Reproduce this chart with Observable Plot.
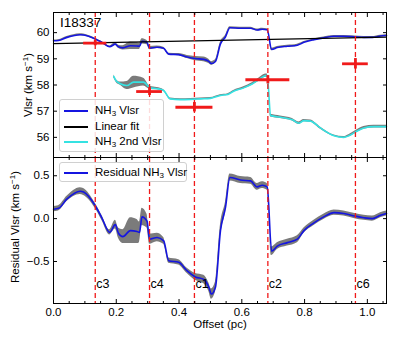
<!DOCTYPE html>
<html><head><meta charset="utf-8">
<script src="https://cdn.jsdelivr.net/npm/d3@7"></script>
<script src="https://cdn.jsdelivr.net/npm/@observablehq/plot@0.6"></script>
<style>
body{margin:0;background:#fff;}
#wrap{position:relative;width:399px;height:342px;font-family:"Liberation Sans",Arial,sans-serif;color:#000;overflow:hidden}
#wrap svg{position:absolute;left:0;overflow:visible}
.t{position:absolute;white-space:nowrap;line-height:1}
.leg{position:absolute;border:1px solid #d0d0d0;border-radius:3px;background:rgba(255,255,255,0.85);font-size:11.5px;box-sizing:border-box}
.row{position:absolute;left:0;height:14px;white-space:nowrap}
.sw{position:absolute;left:4px;width:24px;height:0;border-top:2px solid}
.lt{position:absolute;left:35px;top:-7px;line-height:14px}
sub{font-size:8px;vertical-align:-2px;line-height:0}
sup{font-size:8px;vertical-align:4px;line-height:0}
</style></head>
<body><div id="wrap"></div>
<script>
// ---- data ----
const offsets = [0, 0.016, 0.043, 0.085, 0.096, 0.133, 0.154, 0.179, 0.197, 0.207, 0.221, 0.245, 0.266, 0.274, 0.282, 0.298, 0.306, 0.33, 0.351, 0.367, 0.399, 0.426, 0.452, 0.479, 0.495, 0.503, 0.516, 0.532, 0.548, 0.562, 0.596, 0.628, 0.649, 0.665, 0.681, 0.695, 0.713, 0.745, 0.777, 0.798, 0.83, 0.861, 0.894, 0.925, 0.96, 0.989, 1.016, 1.042, 1.061];
const vlsr = [59.69, 59.70, 59.82, 59.92, 59.91, 59.76, 59.63, 59.46, 59.56, 59.46, 59.42, 59.50, 59.49, 59.48, 59.67, 59.62, 59.41, 59.44, 59.40, 59.18, 59.16, 59.07, 59.01, 58.98, 58.90, 58.82, 58.90, 59.57, 59.84, 60.19, 60.17, 60.17, 60.10, 60.13, 60.11, 59.36, 59.43, 59.48, 59.52, 59.63, 59.73, 59.80, 59.86, 59.86, 59.84, 59.82, 59.82, 59.87, 59.89];
const vlsrErr = [0.03, 0.03, 0.03, 0.04, 0.04, 0.03, 0.03, 0.03, 0.05, 0.06, 0.08, 0.14, 0.13, 0.12, 0.1, 0.08, 0.06, 0.05, 0.04, 0.03, 0.04, 0.06, 0.08, 0.09, 0.08, 0.07, 0.06, 0.07, 0.06, 0.04, 0.04, 0.04, 0.04, 0.04, 0.04, 0.05, 0.04, 0.04, 0.04, 0.03, 0.03, 0.03, 0.03, 0.03, 0.03, 0.03, 0.03, 0.03, 0.03];
const residual = [0.11, 0.12, 0.23, 0.32, 0.31, 0.15, 0.01, -0.16, -0.07, -0.17, -0.21, -0.14, -0.15, -0.16, 0.02, -0.03, -0.24, -0.22, -0.26, -0.49, -0.51, -0.61, -0.68, -0.71, -0.80, -0.88, -0.80, -0.14, 0.13, 0.48, 0.45, 0.44, 0.37, 0.39, 0.37, -0.38, -0.32, -0.28, -0.24, -0.14, -0.05, 0.02, 0.07, 0.06, 0.03, 0.01, 0.00, 0.04, 0.06];
const residualErr = [0.03, 0.03, 0.03, 0.04, 0.04, 0.03, 0.03, 0.03, 0.05, 0.06, 0.08, 0.15, 0.14, 0.12, 0.1, 0.08, 0.06, 0.05, 0.04, 0.03, 0.03, 0.03, 0.04, 0.05, 0.05, 0.06, 0.06, 0.07, 0.06, 0.04, 0.04, 0.04, 0.04, 0.04, 0.04, 0.05, 0.04, 0.04, 0.04, 0.03, 0.03, 0.03, 0.03, 0.03, 0.03, 0.03, 0.03, 0.03, 0.03];
const fitOffsets = [0, 1.061];
const fitVlsr = [59.58, 59.83];
const offsets2 = [0.192, 0.2, 0.213, 0.234, 0.255, 0.287, 0.308, 0.33, 0.351, 0.372, 0.404, 0.437, 0.468, 0.5, 0.532, 0.556, 0.574, 0.606, 0.633, 0.655, 0.676, 0.681, 0.692, 0.723, 0.761, 0.782, 0.798, 0.819, 0.851, 0.894, 0.925, 0.941, 0.962, 0.989, 1.021, 1.061];
const vlsr2 = [58.33, 58.15, 58.05, 57.98, 58.11, 58.11, 57.89, 57.86, 57.79, 57.47, 57.44, 57.45, 57.47, 57.49, 57.6, 57.64, 57.76, 57.89, 58.04, 58.21, 58.36, 58.36, 56.83, 56.77, 56.67, 56.54, 56.64, 56.62, 56.35, 56.06, 56.0, 56.06, 56.2, 56.36, 56.41, 56.41];
const vlsr2Err = [0.05, 0.05, 0.06, 0.15, 0.22, 0.15, 0.06, 0.04, 0.03, 0.03, 0.03, 0.03, 0.03, 0.03, 0.03, 0.03, 0.03, 0.04, 0.05, 0.06, 0.06, 0.06, 0.05, 0.05, 0.05, 0.05, 0.04, 0.04, 0.04, 0.03, 0.03, 0.04, 0.05, 0.05, 0.05, 0.05];
const cores = ["c3", "c4", "c1", "c2", "c6"];
const coreOffset = [0.133, 0.306, 0.449, 0.683, 0.962];
const coreVlsr = [59.6, 57.75, 57.15, 58.2, 58.81];
const coreOffsetErr = [0.037, 0.041, 0.059, 0.07, 0.041];
const coreVlsrErr = [0.1, 0.15, 0.18, 0.16, 0.2];
const xMajorTicks = [0, 0.2, 0.4, 0.6, 0.8, 1.0];
const xMinorTicks = [0.05,0.1,0.15,0.25,0.3,0.35,0.45,0.5,0.55,0.65,0.7,0.75,0.85,0.9,0.95,1.05];
const yTopTicks = [56, 57, 58, 59, 60];
const yBottomTicks = [-0.5, 0, 0.5];

// ---- tables ----
const mainTab = offsets.map((x, i) => ({x, v: vlsr[i], e: vlsrErr[i], r: residual[i], re: residualErr[i]}));
const secondTab = offsets2.map((x, i) => ({x, v: vlsr2[i], e: vlsr2Err[i]}));
const fitTab = fitOffsets.map((x, i) => ({x, v: fitVlsr[i]}));
const coreTab = cores.map((c, i) => ({c, x: coreOffset[i], v: coreVlsr[i], xe: coreOffsetErr[i], ve: coreVlsrErr[i]}));

const FONT = '"Liberation Sans", Arial, sans-serif';
const RED = "#f01a1a";
const BLUE = "#1515e0";
const CYAN = "#35e2e2";
const GREY = "#7b7b7b";
const CURVE = "monotone-x";
const xOpt = {domain: [0, 1.061]};
const common = {width: 399, marginLeft: 53, marginRight: 13, style: {fontFamily: FONT, fontSize: "11.5px", color: "#000", background: "transparent"}};
const blank = () => "";
function tickMarks(yTicks) {
  return [
    Plot.axisX({ticks: xMajorTicks, anchor: "bottom", tickSize: -4, tickFormat: blank, label: null}),
    Plot.axisX({ticks: xMajorTicks, anchor: "top", tickSize: -4, tickFormat: blank, label: null}),
    Plot.axisX({ticks: xMinorTicks, anchor: "bottom", tickSize: -2, tickFormat: blank, label: null}),
    Plot.axisX({ticks: xMinorTicks, anchor: "top", tickSize: -2, tickFormat: blank, label: null}),
    Plot.axisY({ticks: yTicks, anchor: "left", tickSize: -4, tickFormat: blank, label: null}),
    Plot.axisY({ticks: yTicks, anchor: "right", tickSize: -4, tickFormat: blank, label: null})
  ];
}

const topChart = Plot.plot({
  ...common, height: 157, marginTop: 12, marginBottom: 0,
  x: xOpt, y: {domain: [55.23, 60.77]},
  marks: [
    Plot.areaY(mainTab, {x: "x", y1: d => d.v - d.e, y2: d => d.v + d.e, fill: GREY, curve: CURVE}),
    Plot.line(mainTab, {x: "x", y: "v", stroke: BLUE, strokeWidth: 1.6, curve: CURVE}),
    Plot.line(fitTab, {x: "x", y: "v", stroke: "#000", strokeWidth: 1.3}),
    Plot.areaY(secondTab, {x: "x", y1: d => d.v - d.e, y2: d => d.v + d.e, fill: GREY, curve: CURVE}),
    Plot.line(secondTab, {x: "x", y: "v", stroke: CYAN, strokeWidth: 1.6, curve: CURVE}),
    Plot.ruleX(coreTab, {x: "x", stroke: RED, strokeWidth: 1.3, strokeDasharray: "5,3"}),
    Plot.ruleY(coreTab, {y: "v", x1: d => d.x - d.xe, x2: d => d.x + d.xe, stroke: RED, strokeWidth: 2.8}),
    Plot.ruleX(coreTab, {x: "x", y1: d => d.v - d.ve, y2: d => d.v + d.ve, stroke: RED, strokeWidth: 2.8}),
    Plot.axisY({ticks: yTopTicks, anchor: "left", tickSize: 0, tickPadding: 4, label: null, tickFormat: d3.format("d")}),
    ...tickMarks(yTopTicks),
    Plot.frame({stroke: "#000", strokeWidth: 1})
  ]
});
topChart.style.top = "0px";

const bottomChart = Plot.plot({
  ...common, height: 185, marginTop: 0, marginBottom: 39,
  x: xOpt, y: {domain: [-0.99, 0.713]},
  marks: [
    Plot.areaY(mainTab, {x: "x", y1: d => d.r - d.re, y2: d => d.r + d.re, fill: GREY, curve: CURVE}),
    Plot.line(mainTab, {x: "x", y: "r", stroke: BLUE, strokeWidth: 1.6, curve: CURVE}),
    Plot.ruleX(coreTab, {x: "x", stroke: RED, strokeWidth: 1.3, strokeDasharray: "5,3"}),
    Plot.text(coreTab, {x: "x", text: "c", frameAnchor: "bottom", dy: -20, dx: 1, textAnchor: "start", lineAnchor: "middle", fontSize: 12.5, fill: "#000"}),
    Plot.axisY({ticks: yBottomTicks, anchor: "left", tickSize: 0, tickPadding: 4, label: null, tickFormat: d3.format(".1f")}),
    Plot.axisX({ticks: xMajorTicks, anchor: "bottom", tickSize: 0, tickPadding: 4, label: null, tickFormat: d3.format(".1f")}),
    ...tickMarks(yBottomTicks),
    Plot.frame({stroke: "#000", strokeWidth: 1})
  ]
});
bottomChart.style.top = "157px";

const wrap = document.getElementById("wrap");
wrap.appendChild(topChart);
wrap.appendChild(bottomChart);

function addHTML(html) { wrap.insertAdjacentHTML("beforeend", html); }
addHTML(`<div class="t" style="left:60px;top:16px;font-size:13.5px">I18337</div>`);
addHTML(`<div class="t" style="left:29px;top:85px;font-size:11.5px;transform:translate(-50%,-50%) rotate(-90deg)">Vlsr (km s<sup>−1</sup>)</div>`);
addHTML(`<div class="t" style="left:16px;top:227px;font-size:11.5px;transform:translate(-50%,-50%) rotate(-90deg)">Residual Vlsr (km s<sup>−1</sup>)</div>`);
addHTML(`<div class="t" style="left:220px;top:319px;font-size:11.5px;transform:translateX(-50%)">Offset (pc)</div>`);
addHTML(`<div class="leg" style="left:59px;top:99px;width:105px;height:53px">
  <div class="row" style="top:10px"><div class="sw" style="border-color:${BLUE}"></div><div class="lt">NH<sub>3</sub> Vlsr</div></div>
  <div class="row" style="top:26px"><div class="sw" style="border-color:#000"></div><div class="lt">Linear fit</div></div>
  <div class="row" style="top:41px"><div class="sw" style="border-color:${CYAN}"></div><div class="lt">NH<sub>3</sub> 2nd Vlsr</div></div>
</div>`);
addHTML(`<div class="leg" style="left:59px;top:162px;width:128px;height:20px">
  <div class="row" style="top:9px"><div class="sw" style="border-color:${BLUE}"></div><div class="lt">Residual NH<sub>3</sub> Vlsr</div></div>
</div>`);
</script></body></html>
